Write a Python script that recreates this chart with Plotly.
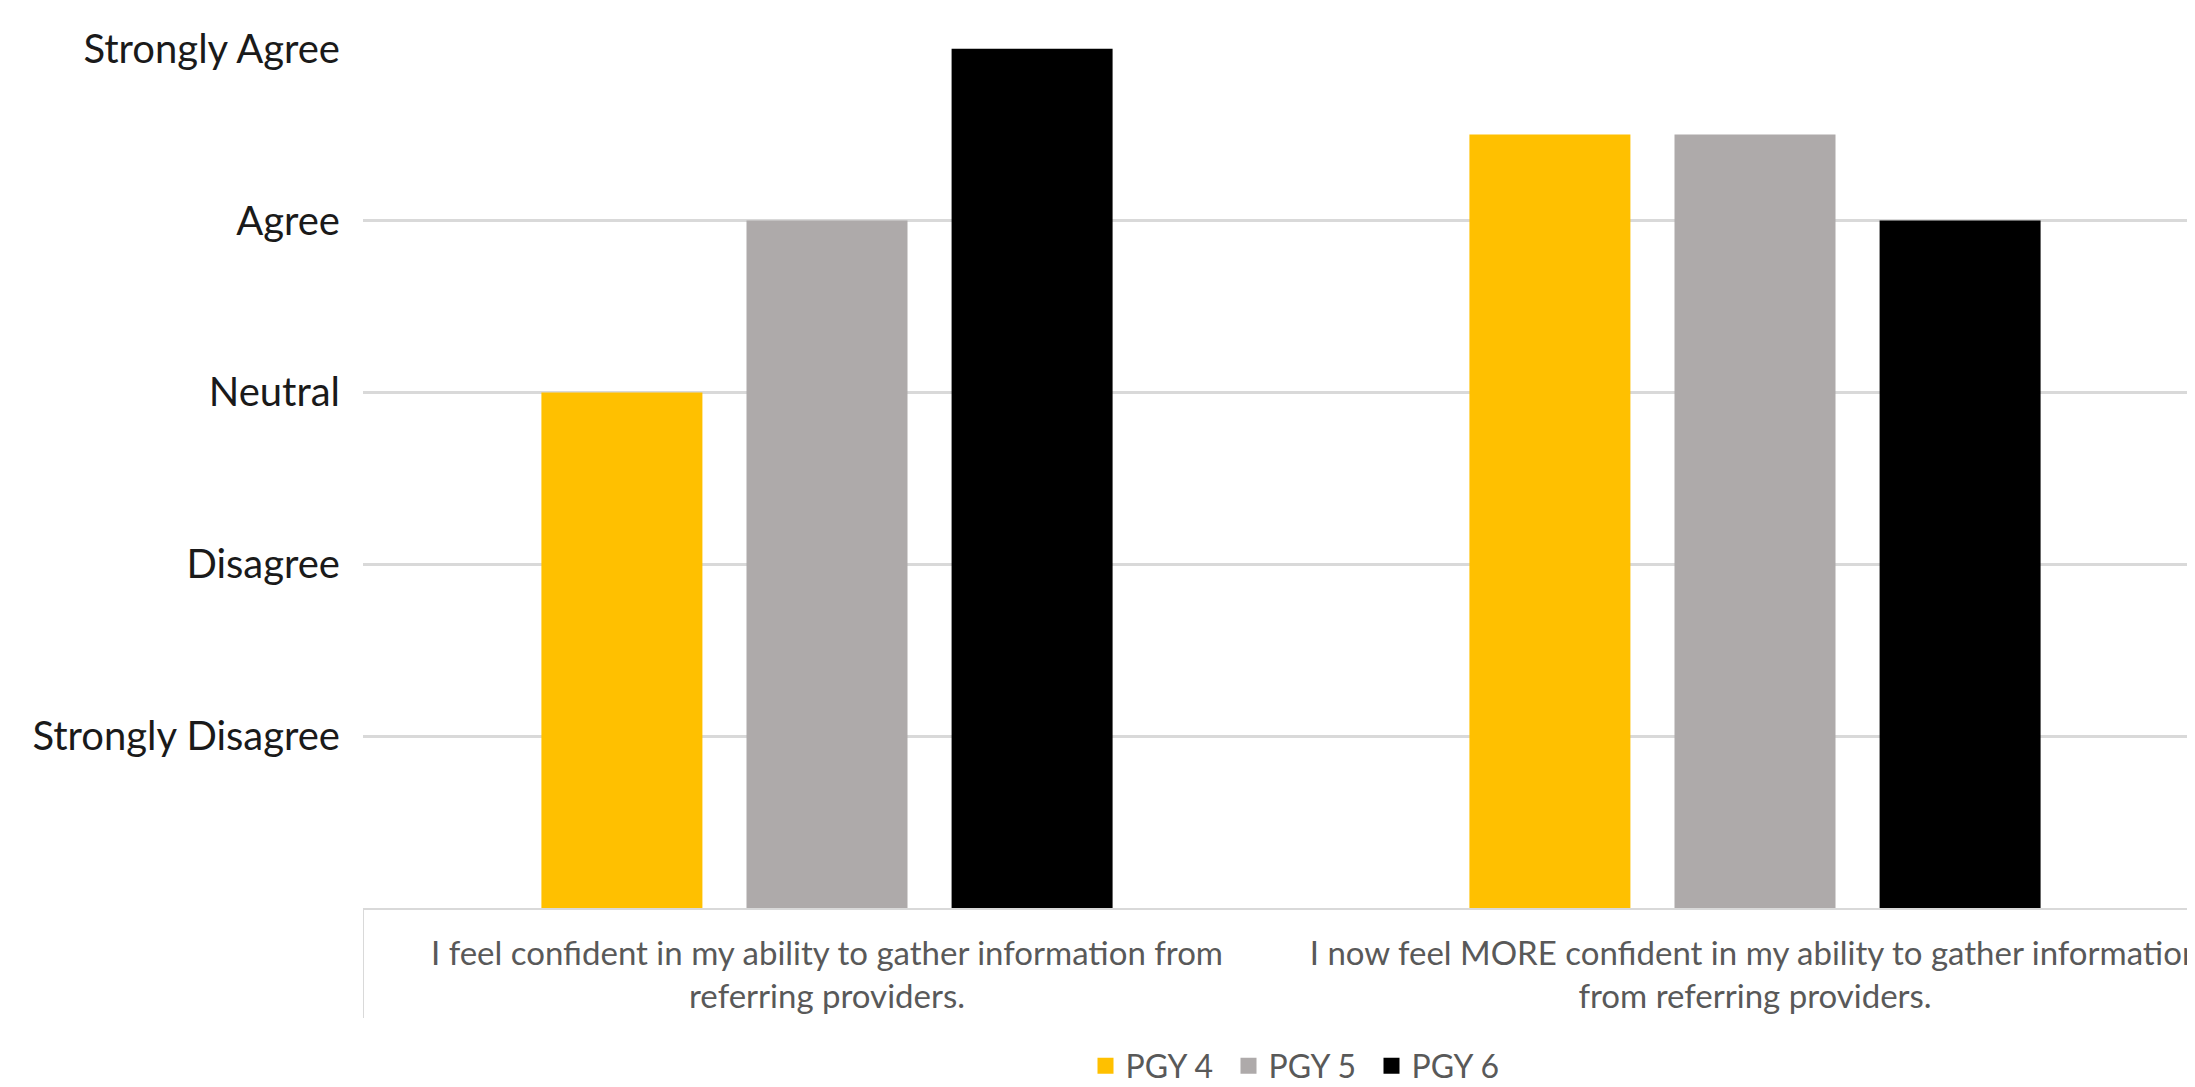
import plotly.graph_objects as go

categories = [
    "I feel confident in my ability to gather information from<br>referring providers.",
    "I now feel MORE confident in my ability to gather information<br>from referring providers.",
]
series_names = ["PGY 4", "PGY 5", "PGY 6"]
pgy4 = [3, 4.5]
pgy5 = [4, 4.5]
pgy6 = [5, 4]
colors = ["#FFC000", "#AEAAAA", "#000000"]
y_tickvals = [1, 2, 3, 4, 5]
y_ticktext = ["Strongly Disagree", "Disagree", "Neutral", "Agree", "Strongly Agree"]

OFF = 8  # browser body margin
W, H = 2195 - OFF, 1087 - OFF
ml, mt, mb = 363 - OFF, 48 - OFF, 1087 - 908
plot_w = W - ml
plot_h = H - mt - mb
cat_px = 928.0

fig = go.Figure()
for name, vals, c in zip(series_names, [pgy4, pgy5, pgy6], colors):
    fig.add_trace(go.Bar(x=[0, 1], y=vals, name=name, showlegend=False,
                         marker=dict(color=c, line=dict(width=0))))
for name, c in zip(series_names, colors):
    fig.add_trace(go.Scatter(x=[None], y=[None], name=name, mode="markers",
                             marker=dict(symbol="square", size=21, color=c)))

font_main = "Lato, sans-serif"

fig.update_layout(
    width=W, height=H,
    margin=dict(l=ml, r=0, t=mt, b=mb, pad=0, autoexpand=False),
    paper_bgcolor="white", plot_bgcolor="white",
    barmode="group", bargap=0.337, bargroupgap=0.215,
    showlegend=True,
    legend=dict(orientation="h", x=(1300 - 363) / plot_w, xanchor="center",
                y=(908 - 1066) / plot_h, yanchor="middle",
                font=dict(family=font_main, size=32, color="#595959"),
                itemwidth=30, traceorder="normal",
                entrywidth=98, entrywidthmode="pixels"),
    xaxis=dict(tickmode="array", tickvals=[0, 1], ticktext=categories,
               range=[-0.5, -0.5 + plot_w / cat_px],
               showline=True, linecolor="#d9d9d9", linewidth=2,
               showgrid=False, zeroline=False, ticks="",
               tickfont=dict(family=font_main, size=33, color="#595959"),
               ticklabelstandoff=15, ticklabeloverflow="allow"),
    yaxis=dict(range=[0, 5.004], tickmode="array", tickvals=y_tickvals, ticktext=y_ticktext,
               showgrid=True, gridcolor="#d9d9d9", gridwidth=2.5,
               zeroline=False, showline=False, ticks="",
               tickfont=dict(family=font_main, size=40, color="#1a1a1a"),
               ticklabelstandoff=22),
)

# category axis divider tick at left edge
fig.add_shape(type="line", xref="x", yref="paper", x0=-0.5, x1=-0.5,
              y0=0, y1=-(1018 - 908) / plot_h,
              line=dict(color="#d9d9d9", width=2))

fig.write_html("out.html")
